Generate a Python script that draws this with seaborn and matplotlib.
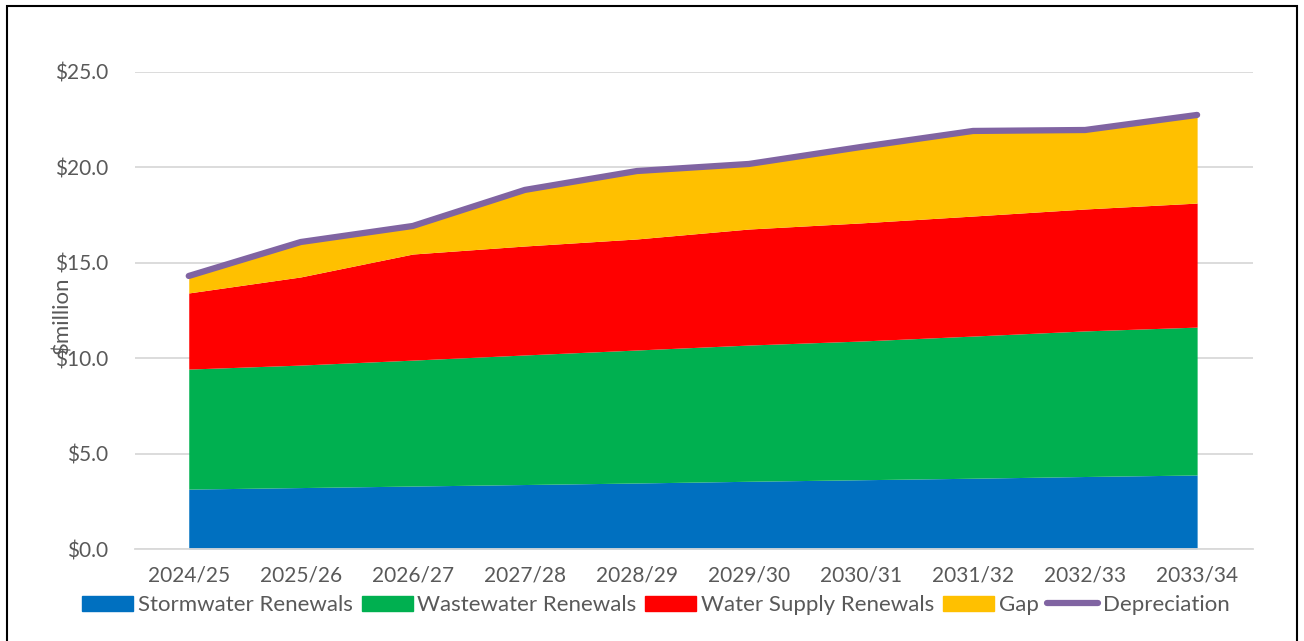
import matplotlib
matplotlib.use("Agg")
import matplotlib.pyplot as plt
import matplotlib.patches as mpatches
from matplotlib.lines import Line2D
import seaborn as sns
import pandas as pd

# values ($ million)
years = ["2024/25", "2025/26", "2026/27", "2027/28", "2028/29",
         "2029/30", "2030/31", "2031/32", "2032/33", "2033/34"]
stormwater = [3.14, 3.22, 3.30, 3.38, 3.46, 3.55, 3.63, 3.71, 3.80, 3.88]
wastewater = [6.29, 6.42, 6.60, 6.79, 6.97, 7.14, 7.27, 7.45, 7.63, 7.75]
water_supply = [3.99, 4.62, 5.56, 5.71, 5.82, 6.08, 6.19, 6.29, 6.39, 6.50]
gap = [0.89, 1.83, 1.47, 2.94, 3.56, 3.41, 3.98, 4.46, 4.14, 4.62]
depreciation = [14.31, 16.09, 16.93, 18.82, 19.81, 20.18, 21.07, 21.91, 21.96, 22.75]

names = ["Stormwater Renewals", "Wastewater Renewals", "Water Supply Renewals", "Gap"]
colors = ["#0070C0", "#00B050", "#FF0000", "#FFC000"]
line_color = "#8064A2"
text_color = "#595959"

sns.set_theme(style="white")
plt.rcParams["font.family"] = ["Lato", "DejaVu Sans"]

df = pd.DataFrame({"Year": years, "Depreciation": depreciation})
df["x"] = range(len(years))

fig = plt.figure(figsize=(13.04, 6.41), dpi=100)
ax = fig.add_axes([0.1035, 0.1435, 0.8575, 0.7442])

ax.stackplot(df["x"], stormwater, wastewater, water_supply, gap,
             colors=colors, labels=names, linewidth=0, zorder=2)
sns.lineplot(data=df, x="x", y="Depreciation", ax=ax, color=line_color,
             linewidth=4.5, solid_capstyle="round", zorder=3, legend=False)

ax.set_xlim(-0.48, 9.5)
ax.set_ylim(0, 25)
ax.set_yticks([0, 5, 10, 15, 20, 25])
ax.set_yticklabels([f"${v:.1f}" for v in [0, 5, 10, 15, 20, 25]])
ax.set_xticks(df["x"])
ax.set_xticklabels(years)
ax.tick_params(axis="both", labelsize=15, colors=text_color, length=0)
ax.tick_params(axis="x", pad=12)
ax.tick_params(axis="y", pad=19)
ax.grid(axis="y", color="#D9D9D9", linewidth=1.3, zorder=0)
ax.set_axisbelow(True)
for side in ["top", "right", "left"]:
    ax.spines[side].set_visible(False)
ax.spines["bottom"].set_color("#D9D9D9")
ax.spines["bottom"].set_linewidth(1.3)

ax.set_xlabel("")
ax.set_ylabel("")
# Excel places the axis title over the tick labels
fig.text(0.048, 0.508, "$million", rotation=90, ha="center", va="center",
         fontsize=16, color=text_color)

handles = [mpatches.Patch(color=c, label=n) for c, n in zip(colors, names)]
handles.append(Line2D([0], [0], color=line_color, linewidth=4.5,
                      solid_capstyle="round", label="Depreciation"))
fig.legend(handles=handles, loc="center", bbox_to_anchor=(0.503, 0.056), ncol=5,
           frameon=False, fontsize=16, labelcolor=text_color,
           handlelength=2.3, handleheight=0.7, handletextpad=0.2,
           columnspacing=0.4, borderpad=0.2)

border = mpatches.Rectangle((7 / 1304, -0.02), 1290 / 1304, 1.02 - 6 / 641,
                            transform=fig.transFigure, fill=False,
                            edgecolor="black", linewidth=1.5)
fig.patches.append(border)

fig.savefig("out.png", dpi=100)
